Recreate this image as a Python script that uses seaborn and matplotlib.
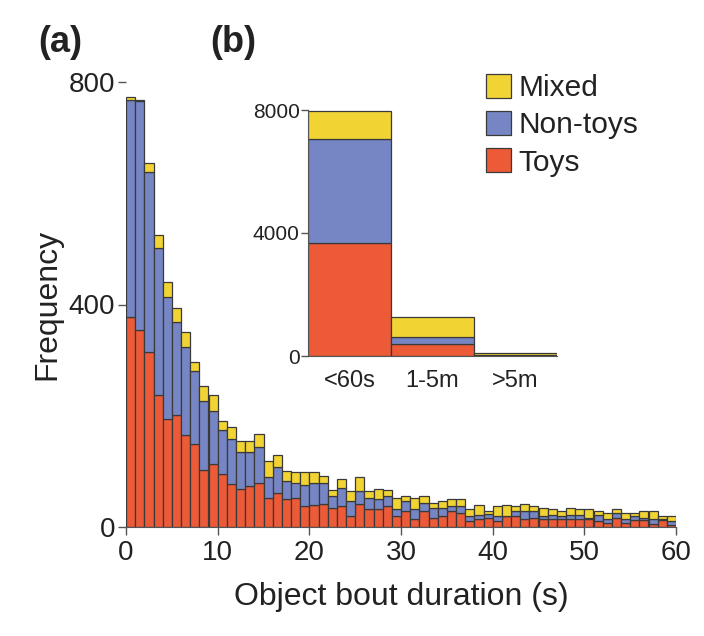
import numpy as np
import pandas as pd
import matplotlib
matplotlib.use("Agg")
import matplotlib.pyplot as plt
from matplotlib.patches import Patch
import seaborn as sns

# per-second counts (bins of 1 s, 0-60 s)
seconds = list(range(60))
toys = [377, 354, 315, 237, 195, 201, 165, 150, 102, 113,
        95, 77, 68, 73, 79, 53, 61, 50, 53, 37,
        39, 41, 35, 37, 19, 41, 32, 32, 37, 19,
        28, 14, 29, 17, 19, 28, 25, 10, 14, 17,
        11, 19, 19, 14, 17, 14, 14, 14, 14, 14,
        14, 11, 8, 17, 8, 13, 13, 6, 13, 4]
non_toys = [391, 411, 324, 264, 218, 168, 159, 131, 125, 96,
            79, 81, 66, 61, 64, 37, 47, 32, 27, 39,
            40, 38, 20, 34, 27, 24, 21, 18, 18, 14,
            18, 19, 14, 18, 16, 9, 12, 10, 7, 6,
            9, 1, 9, 14, 11, 6, 8, 5, 8, 8,
            3, 11, 6, 8, 6, 6, 4, 8, 1, 7]
mixed = [5, 2, 15, 24, 27, 24, 26, 16, 27, 28,
         17, 21, 21, 21, 24, 29, 21, 19, 18, 22,
         19, 13, 12, 15, 18, 25, 11, 18, 12, 19,
         10, 20, 12, 9, 11, 13, 13, 13, 18, 5,
         17, 19, 10, 13, 9, 15, 10, 9, 12, 10,
         15, 6, 12, 7, 12, 7, 11, 14, 6, 9]

# inset: totals by bout length class
classes = ["<60s", "1-5m", ">5m"]
class_toys = [3685, 400, 22]
class_non_toys = [3382, 208, 20]
class_mixed = [913, 650, 65]

hue_order = ["Mixed", "Non-toys", "Toys"]
colors = {"Mixed": "#F1D433", "Non-toys": "#7686C4", "Toys": "#EC5A37"}
edge = "#3a3a3a"
text_col = "#222222"

sns.set_style("ticks")
plt.rcParams["font.family"] = ["Liberation Sans", "DejaVu Sans"]
plt.rcParams["text.color"] = text_col
plt.rcParams["axes.labelcolor"] = text_col

main_df = pd.concat([
    pd.DataFrame({"t": np.array(seconds) + 0.5, "n": toys, "kind": "Toys"}),
    pd.DataFrame({"t": np.array(seconds) + 0.5, "n": non_toys, "kind": "Non-toys"}),
    pd.DataFrame({"t": np.array(seconds) + 0.5, "n": mixed, "kind": "Mixed"}),
], ignore_index=True)
inset_df = pd.concat([
    pd.DataFrame({"c": range(3), "n": class_toys, "kind": "Toys"}),
    pd.DataFrame({"c": range(3), "n": class_non_toys, "kind": "Non-toys"}),
    pd.DataFrame({"c": range(3), "n": class_mixed, "kind": "Mixed"}),
], ignore_index=True)

fig = plt.figure(figsize=(7.04, 6.36), dpi=100)

# main histogram (a)
ax = fig.add_axes([126 / 704, 1 - 527 / 636, 550 / 704, 445 / 636])
sns.histplot(data=main_df, x="t", weights="n", hue="kind", hue_order=hue_order,
             multiple="stack", binwidth=1, binrange=(0, 60), palette=colors,
             alpha=1, edgecolor=edge, linewidth=0.9, legend=False, ax=ax)
ax.set_xlim(0, 60)
ax.set_ylim(0, 800)
ax.set_xticks(range(0, 61, 10))
ax.set_yticks([0, 400, 800])
ax.set_xlabel("Object bout duration (s)", fontsize=23, labelpad=12)
ax.set_ylabel("Frequency", fontsize=23, labelpad=4)
ax.tick_params(axis="both", labelsize=20, length=6, width=1, color="#555555",
               labelcolor=text_col, pad=2)
ax.tick_params(axis="x", pad=3)
for s in ["top", "right", "left"]:
    ax.spines[s].set_visible(False)
ax.spines["bottom"].set_color("#555555")

# inset (b)
ax2 = fig.add_axes([308 / 704, 1 - 356 / 636, 249 / 704, 246 / 636])
sns.histplot(data=inset_df, x="c", weights="n", hue="kind", hue_order=hue_order,
             multiple="stack", discrete=True, shrink=1, palette=colors,
             alpha=1, edgecolor=edge, linewidth=0.9, legend=False, ax=ax2)
ax2.set_xlim(-0.5, 2.5)
ax2.set_ylim(0, 8000)
ax2.set_yticks([0, 4000, 8000])
ax2.set_xticks(range(3))
ax2.set_xticklabels(classes)
ax2.set_xlabel("")
ax2.set_ylabel("")
ax2.tick_params(axis="y", labelsize=15, length=5, width=1, color="#555555",
                labelcolor=text_col, pad=1)
ax2.tick_params(axis="x", labelsize=17, length=0, labelcolor=text_col, pad=10)
for s in ["top", "right"]:
    ax2.spines[s].set_visible(False)
ax2.spines["left"].set_color("#555555")
ax2.spines["bottom"].set_color("#555555")

handles = [Patch(facecolor=colors[k], edgecolor=edge, linewidth=0.9) for k in hue_order]
fig.legend(handles, hue_order, loc="upper left", bbox_to_anchor=(486 / 704, 1 - 74 / 636),
           frameon=False, fontsize=21.5, handlelength=0.85, handleheight=0.85,
           handletextpad=0.25, labelspacing=0.3, borderpad=0, borderaxespad=0)

fig.text(38 / 704, 1 - 52 / 636, "(a)", fontsize=26, fontweight="bold", color=text_col)
fig.text(210 / 704, 1 - 52 / 636, "(b)", fontsize=26, fontweight="bold", color=text_col)

fig.savefig("out.png", dpi=100)
